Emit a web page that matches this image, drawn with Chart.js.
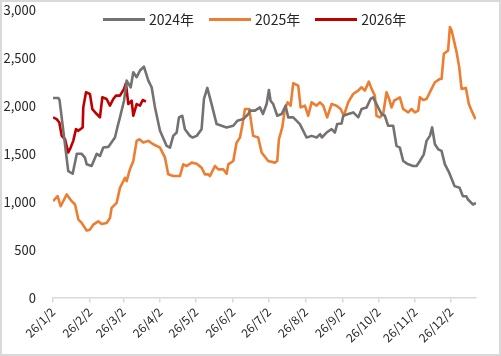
<!DOCTYPE html>
<html>
<head>
<meta charset="utf-8">
<script src="https://cdn.jsdelivr.net/npm/chart.js@4/dist/chart.umd.min.js"></script>
<style>
html,body{margin:0;padding:0;background:#fff;}
#wrap{width:501px;height:356px;box-sizing:border-box;border:2px solid #d9d9d9;position:relative;}
canvas{display:block;}
#legend{position:absolute;left:101px;top:8px;display:flex;align-items:center;font-family:'Noto Sans CJK SC','Noto Sans',sans-serif;font-size:14px;color:#262626;line-height:18px;white-space:nowrap;}
#legend .item{display:flex;align-items:center;margin-right:15px;}
#legend .swatch{width:42px;height:3px;margin-right:4px;}
</style>
</head>
<body>
<div id="wrap"><canvas id="c" width="497" height="352"></canvas><div id="legend"></div></div>
<script>
// x positions are days after 26/1/2
const tickDays = [0, 31, 59, 90, 120, 151, 181, 212, 243, 273, 304, 334];
const tickLabels = ["26/1/2","26/2/2","26/3/2","26/4/2","26/5/2","26/6/2","26/7/2","26/8/2","26/9/2","26/10/2","26/11/2","26/12/2"];
const seriesNames = ["2024年","2025年","2026年"];

const days2024 = [0,4.5,5.5,12.8,16.5,20,24.1,26.8,28.3,32.4,36.7,39.4,42.2,46.4,52,54,56.2,59.6,61.8,65.2,67.4,70.2,73,76.3,80,82.8,85.6,89.8,95.4,98.2,100.9,103.8,105.7,108.5,110.7,114.9,117.2,120.6,124.7,126.7,129.5,133.1,137.3,141.5,145.7,151.3,154.7,159.7,163.9,165.3,169.5,173.7,176.2,179.3,181.2,182.6,184.8,188.2,191.9,195.2,197.4,201.6,207.2,212.8,217.1,221.3,224.2,225.6,229.6,233.8,236.6,238.5,242.2,243.6,247.8,252,256.2,259,263.2,266.5,268.7,271.5,275.7,278.5,281.3,285.5,288.3,291.1,293.9,298.1,302.3,305.1,307.9,311.2,313.5,316.3,318.2,320.5,323.3,326.1,328.9,332.5,335.3,337,341.2,344,346.8,348.3,352.5,355];
const vals2024 = [2082,2082,2060,1320,1292,1500,1500,1460,1390,1373,1500,1478,1565,1572,1670,1775,1880,2054,2264,2194,2351,2299,2369,2410,2264,2194,1984,1740,1582,1565,1687,1722,1880,1897,1757,1687,1670,1687,1757,2072,2187,2019,1810,1792,1775,1792,1845,1862,1915,1950,1950,1984,1915,2019,2166,2054,2019,1897,1915,2002,1880,1880,1810,1670,1687,1670,1705,1670,1722,1757,1722,1810,1817,1897,1915,1932,1880,1967,1984,2072,2089,2019,1915,1897,1792,1792,1582,1565,1425,1390,1373,1373,1425,1495,1635,1687,1775,1600,1547,1530,1390,1303,1216,1163,1145,1058,1058,1023,971,988];

const days2025 = [0,3.9,6.4,11.5,15.7,18.5,21.3,24.1,28.3,31,33.8,38,40.8,45,47.8,49.2,53.4,56.2,60.4,61.8,64.6,67.4,70.2,72.4,75.8,80,84.1,89.8,94,96.7,100.9,106.5,109.3,112.2,116.4,120.6,124.7,127.5,130.3,131.7,135.9,138.7,142.9,145.7,147.1,151.3,154.1,156.9,159.1,161.1,164.7,168,172.2,175.1,180.6,186.2,188.2,189.6,192.4,194.6,196.9,199.4,201.6,205.8,207.8,211.4,214.2,217,221.2,224,226.8,230.1,233.8,238,241.4,244.1,247.7,251.9,256.1,258.9,261.7,265.1,267.4,270.1,271.5,274.3,277.1,279.9,282.1,284.1,286.3,291.1,293.9,298.1,300.9,303.7,306.5,307.9,310.7,313.5,317.7,320.5,324.7,326.1,328,331.6,333.1,334.5,338.7,340.9,342.9,346.5,349,351.3,354.6];
const vals2025 = [1006,1058,953,1076,1006,971,814,779,699,709,761,796,768,779,831,936,988,1145,1250,1216,1340,1425,1635,1652,1617,1635,1600,1565,1460,1286,1268,1268,1390,1373,1408,1397,1355,1286,1286,1268,1373,1338,1338,1292,1390,1425,1617,1670,1810,1967,1967,1687,1670,1513,1425,1408,1425,1652,1775,1967,2037,2002,2236,2211,1984,2002,1897,2037,2002,2037,2002,1880,2019,2002,1967,1897,2037,2124,2159,2194,2159,2253,2177,2107,1897,1880,1915,2142,2072,1984,2054,2089,1967,1932,1967,1932,1950,2089,2061,2072,2177,2246,2281,2281,2543,2578,2822,2788,2561,2404,2177,2187,2019,1950,1862];

const days2026 = [0,3.1,5.3,7.3,10.1,12.8,14.8,17,19.3,21.2,24.9,25.4,27.7,31,33,36.7,39.4,41.4,45,47.8,50.6,52.9,56.2,59.6,61.2,63.2,66,67.4,70.2,73,75.3,78];
const vals2026 = [1880,1862,1827,1687,1652,1513,1565,1635,1757,1740,1775,1984,2142,2124,1967,1915,1880,2089,2072,2002,2072,2107,2107,2177,2236,2019,2054,1897,2019,2002,2061,2044];

const colors = ["#767171","#ED7D31","#C00000"];

function pts(d, v){ return d.map((x,i)=>({x:x, y:v[i]})); }

// HTML legend (real text)
const legendEl = document.getElementById('legend');
seriesNames.forEach((name,i)=>{
  const item = document.createElement('div'); item.className='item';
  const sw = document.createElement('span'); sw.className='swatch'; sw.style.background = colors[i];
  const tx = document.createElement('span'); tx.textContent = name;
  item.appendChild(sw); item.appendChild(tx); legendEl.appendChild(item);
});

const FONT = "'Noto Sans CJK SC','Noto Sans',sans-serif";

new Chart(document.getElementById('c'), {
  type: 'line',
  data: {
    datasets: [
      {label: seriesNames[0], data: pts(days2024, vals2024)},
      {label: seriesNames[1], data: pts(days2025, vals2025)},
      {label: seriesNames[2], data: pts(days2026, vals2026)}
    ].map((ds,i)=>Object.assign(ds,{
      borderColor: colors[i], backgroundColor: colors[i], borderWidth: 2.6,
      pointRadius: 0, tension: 0, fill: false, borderJoinStyle: 'round'
    }))
  },
  options: {
    responsive: false,
    animation: false,
    layout: {padding: {left: 0, right: 23, top: 0, bottom: 7}},
    plugins: {
      legend: {display: false},
      tooltip: {enabled: false}
    },
    scales: {
      x: {
        type: 'linear', min: 0, max: 355,
        afterBuildTicks(scale){ scale.ticks = tickDays.map(v=>({value:v})); },
        afterFit(scale){ scale.paddingLeft = 0; scale.paddingRight = 0; },
        ticks: {
          autoSkip: false, maxRotation: 45, minRotation: 45, padding: 2,
          color: '#262626', font: {family: FONT, size: 12},
          callback(v){ const i = tickDays.indexOf(v); return i>=0 ? tickLabels[i] : ''; }
        },
        grid: {display: true, drawOnChartArea: false, drawTicks: true, tickLength: 5, color: '#d9d9d9', lineWidth: 1.5},
        border: {display: true, color: '#d9d9d9', width: 1.5}
      },
      y: {
        min: 0, max: 3000,
        afterFit(scale){ scale.width = 51; scale.paddingTop = 8; scale.paddingBottom = 8; },
        ticks: {
          stepSize: 500, padding: 17, color: '#262626',
          font: {family: FONT, size: 13},
          callback(v){ return v.toLocaleString('en-US'); }
        },
        grid: {display: false, drawTicks: false},
        border: {display: false}
      }
    }
  }
});
</script>
</body>
</html>
